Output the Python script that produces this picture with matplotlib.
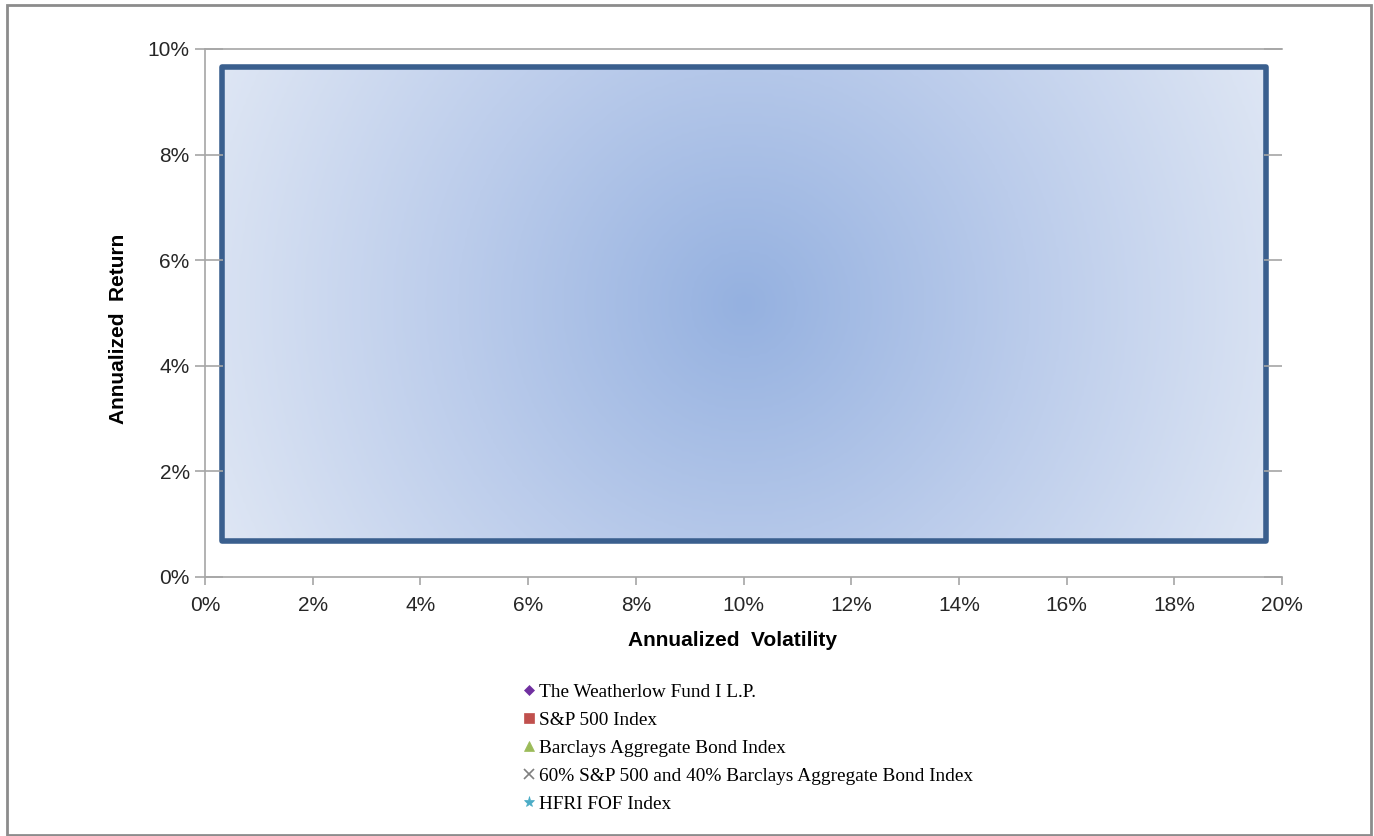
import matplotlib
matplotlib.use("Agg")
import matplotlib.pyplot as plt
import matplotlib.patches as mpatches
import numpy as np
from matplotlib.colors import LinearSegmentedColormap
from matplotlib.ticker import PercentFormatter

# series shown in the legend (the chart has no visible points)
series_names = [
    "The Weatherlow Fund I L.P.",
    "S&P 500 Index",
    "Barclays Aggregate Bond Index",
    "60% S&P 500 and 40% Barclays Aggregate Bond Index",
    "HFRI FOF Index",
]
series_markers = ["D", "s", "^", "x", "*"]
series_colors = ["#7030A0", "#C0504D", "#9BBB59", "#7F7F7F", "#4BACC6"]
series_sizes = [5, 7, 7, 7, 8]
vol_values = [[], [], [], [], []]
ret_values = [[], [], [], [], []]

# shaded box (annualized volatility / return, %)
box_x = [0.32, 19.70]
box_y = [0.68, 9.65]

x_ticks = [0, 2, 4, 6, 8, 10, 12, 14, 16, 18, 20]
y_ticks = [0, 2, 4, 6, 8, 10]

fig = plt.figure(figsize=(13.74, 8.36), dpi=100)
ax = fig.add_axes([205 / 1374, 1 - 577 / 836, 1077 / 1374, 528 / 836])

# radial gradient inside the box
w_px, h_px = 1044, 474
gx, gy = np.meshgrid(np.linspace(-w_px / 2, w_px / 2, 400),
                     np.linspace(-h_px / 2, h_px / 2, 200))
r = np.sqrt(gx ** 2 + gy ** 2) / np.hypot(w_px / 2, h_px / 2)
cmap = LinearSegmentedColormap.from_list("grad", ["#95B1E0", "#BBCCEB", "#DEE6F4"])
ax.imshow(r, cmap=cmap, vmin=0, vmax=1, extent=[box_x[0], box_x[1], box_y[0], box_y[1]],
          aspect="auto", interpolation="bilinear", zorder=1)
ax.add_patch(mpatches.Rectangle((box_x[0], box_y[0]), box_x[1] - box_x[0], box_y[1] - box_y[0],
                                fill=False, edgecolor="#3A5F8E", lw=4, joinstyle="round", zorder=2))

handles = []
for vx, vy, name, m, c, s in zip(vol_values, ret_values, series_names,
                                  series_markers, series_colors, series_sizes):
    h, = ax.plot(vx, vy, linestyle="none", marker=m, color=c, markersize=s,
                 markeredgewidth=1.2 if m == "x" else 0.5, label=name)
    handles.append(h)

ax.set_xlim(0, 20)
ax.set_ylim(0, 10)
ax.set_xticks(x_ticks)
ax.set_yticks(y_ticks)
ax.xaxis.set_major_formatter(PercentFormatter(decimals=0))
ax.yaxis.set_major_formatter(PercentFormatter(decimals=0))

ax.spines["right"].set_visible(False)
for side in ["left", "bottom", "top"]:
    ax.spines[side].set_color("#A6A6A6")
    ax.spines[side].set_linewidth(1.2)

ax.tick_params(axis="x", direction="out", length=6, width=1.2, color="#A6A6A6",
               labelsize=15, labelcolor="#262626", pad=8)
ax.tick_params(axis="y", direction="out", length=7, width=1.2, color="#A6A6A6",
               labelsize=15, labelcolor="#262626", pad=4)
for lbl in ax.get_xticklabels() + ax.get_yticklabels():
    lbl.set_fontfamily("Liberation Sans")

# inward ticks on both vertical edges
ax_r = ax.twinx()
ax_r.set_ylim(0, 10)
ax_r.set_yticks(y_ticks)
ax_r.tick_params(axis="y", direction="in", length=13, width=1.2, color="#A6A6A6",
                 left=True, right=True, labelright=False, labelleft=False)
for side in ax_r.spines:
    ax_r.spines[side].set_visible(False)

ax.set_xlabel("Annualized  Volatility", fontsize=15, fontweight="bold",
              fontfamily="Liberation Sans")
ax.xaxis.set_label_coords((733 - 205) / 1077, -(641 - 577) / 528)
ax.set_ylabel("Annualized  Return", fontsize=15, fontweight="bold",
              fontfamily="Liberation Sans")
ax.yaxis.set_label_coords(-(205 - 118) / 1077, (577 - 329) / 528)
ax.xaxis.label.set_va("center")
ax.yaxis.label.set_va("center")

fig.legend(handles=handles, loc="upper left", bbox_to_anchor=(521 / 1374, 1 - 683 / 836),
           frameon=False, borderpad=0, borderaxespad=0, handlelength=0.8,
           handletextpad=0.15, labelspacing=0.55,
           prop={"family": "Liberation Serif", "size": 13.9})

fig.add_artist(mpatches.Rectangle((7 / 1374, 1 - 835 / 836), 1364 / 1374, 830 / 836,
                                  transform=fig.transFigure, fill=False,
                                  edgecolor="#8C8C8C", lw=2))

fig.savefig("out.png", dpi=100)
